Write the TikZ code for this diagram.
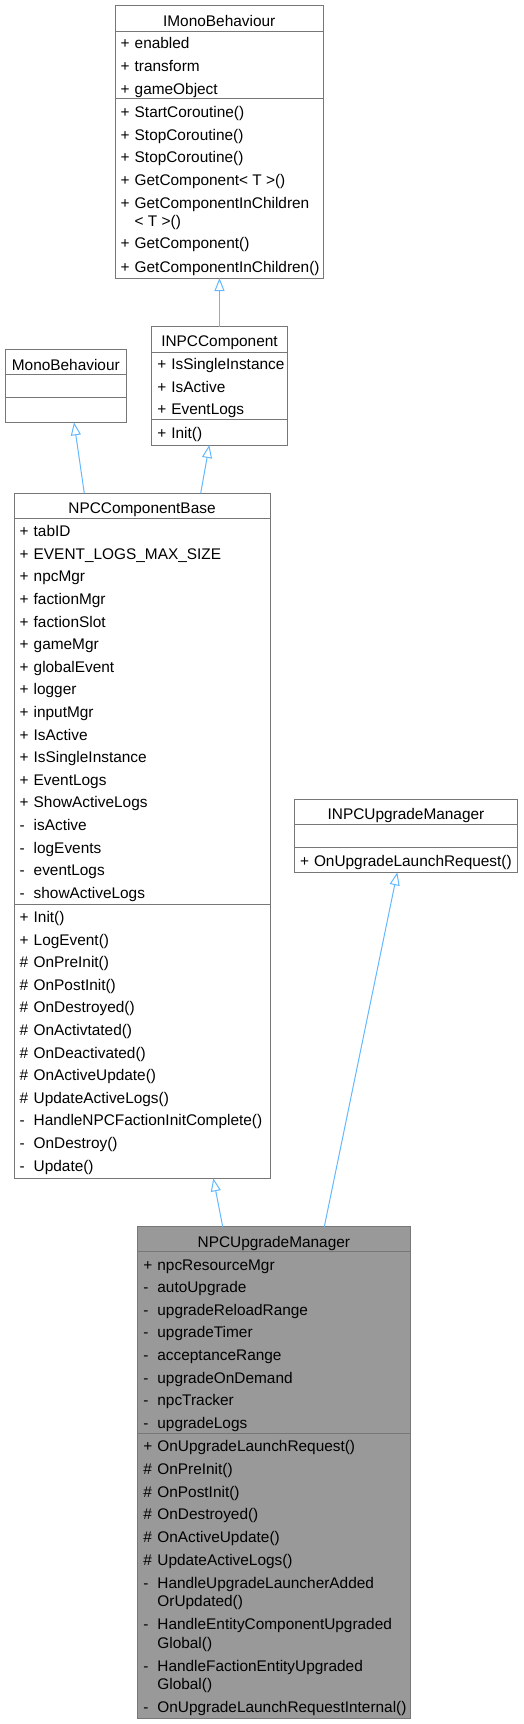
\documentclass[tikz,border=0pt]{standalone}
\usepackage{fontspec}
\setmainfont{Liberation Sans}
\usetikzlibrary{arrows.meta,calc}
\definecolor{bordc}{HTML}{777777}
\definecolor{edgec}{HTML}{63B8FF}
\definecolor{curfill}{HTML}{999999}
\newcommand\members[3]{\foreach \myy/\mpre/\mtxt [count=\mi] in {#3}{\node[mem] (#1\mi) at (#2,\myy) {\makebox[14pt][l]{\mpre}\mtxt};}}
\begin{document}
\begin{tikzpicture}[x=1pt,y=-1pt,
  box/.style={draw=bordc, line width=1pt, inner sep=0pt, outer sep=0pt, anchor=north west, fill=white},
  ttl/.style={anchor=base, inner sep=0pt, font=\fontsize{15.4pt}{18pt}\selectfont},
  mem/.style={anchor=base west, inner sep=0pt, font=\fontsize{15.4pt}{18pt}\selectfont},
  sepl/.style={draw=bordc, line width=1pt},
  edge/.style={draw=edgec, line width=1pt, -{Triangle[open, length=13pt, width=10pt]}}]
\useasboundingbox (0,0) rectangle (523,1724);

% IMonoBehaviour
\node[box, minimum width=208.3pt, minimum height=273pt] (imono) at (115,5) {};
\draw[sepl] (imono.west |- 0,31) -- (imono.east |- 0,31);
\draw[sepl] (imono.west |- 0,98.7) -- (imono.east |- 0,98.7);
\node[ttl] (imonot) at (219.2,26.7) {IMonoBehaviour};
\members{ima}{120.5}{48.7/+/enabled, 71.5/+/transform, 94/+/gameObject}
\members{imm}{120.5}{117.5/+/StartCoroutine(), 140/+/StopCoroutine(), 162.5/+/StopCoroutine(), 185.5/+/GetComponent< T >(), 208/+/GetComponentInChildren, 226/{}/< T >(), 248.8/+/GetComponent(), 272/+/GetComponentInChildren()}

% INPCComponent
\node[box, minimum width=135.6pt, minimum height=118.3pt] (inpc) at (151.7,326.7) {};
\draw[sepl] (inpc.west |- 0,352) -- (inpc.east |- 0,352);
\draw[sepl] (inpc.west |- 0,419.3) -- (inpc.east |- 0,419.3);
\node[ttl] (inpct) at (219.5,346.7) {INPCComponent};
\members{ica}{157.2}{369.9/+/IsSingleInstance, 392.5/+/IsActive, 414.7/+/EventLogs}
\members{icm}{157.2}{438.7/+/Init()}

% MonoBehaviour
\node[box, minimum width=121.7pt, minimum height=73pt] (mono) at (5,349.3) {};
\draw[sepl] (mono.west |- 0,374.3) -- (mono.east |- 0,374.3);
\draw[sepl] (mono.west |- 0,397.3) -- (mono.east |- 0,397.3);
\node[ttl] (monot) at (65.8,370) {MonoBehaviour};

% NPCComponentBase
\node[box, minimum width=256pt, minimum height=685pt] (nb) at (14,493.3) {};
\draw[sepl] (nb.west |- 0,518.3) -- (nb.east |- 0,518.3);
\draw[sepl] (nb.west |- 0,904) -- (nb.east |- 0,904);
\node[ttl] (nbt) at (142,513.8) {NPCComponentBase};
\members{nba}{19.5}{536.7/+/tabID, 559.3/+/EVENT\_LOGS\_MAX\_SIZE, 581.9/+/npcMgr, 604.5/+/factionMgr, 627.1/+/factionSlot, 649.7/+/gameMgr, 672.3/+/globalEvent, 694.9/+/logger, 717.5/+/inputMgr, 740.1/+/IsActive, 762.7/+/IsSingleInstance, 785.3/+/EventLogs, 807.9/+/ShowActiveLogs, 830.5/-/isActive, 853.1/-/logEvents, 875.7/-/eventLogs, 898.3/-/showActiveLogs}
\members{nbm}{19.5}{922.4/+/Init(), 945/+/LogEvent(), 967.6/\#/OnPreInit(), 990.2/\#/OnPostInit(), 1012.8/\#/OnDestroyed(), 1035.4/\#/OnActivtated(), 1058/\#/OnDeactivated(), 1080.6/\#/OnActiveUpdate(), 1103.2/\#/UpdateActiveLogs(), 1125.8/-/HandleNPCFactionInitComplete(), 1148.4/-/OnDestroy(), 1171/-/Update()}

% INPCUpgradeManager
\node[box, minimum width=223.4pt, minimum height=73pt] (iupm) at (294.3,799.3) {};
\draw[sepl] (iupm.west |- 0,824.3) -- (iupm.east |- 0,824.3);
\draw[sepl] (iupm.west |- 0,847.7) -- (iupm.east |- 0,847.7);
\node[ttl] (iupmt) at (406,819.8) {INPCUpgradeManager};
\members{ium}{299.8}{866.7/+/OnUpgradeLaunchRequest()}

% NPCUpgradeManager
\node[box, fill=curfill, minimum width=272.3pt, minimum height=491.6pt] (upm) at (137.7,1226.7) {};
\draw[sepl] (upm.west |- 0,1251.7) -- (upm.east |- 0,1251.7);
\draw[sepl] (upm.west |- 0,1433.3) -- (upm.east |- 0,1433.3);
\node[ttl] (upmt) at (273.9,1247) {NPCUpgradeManager};
\members{uma}{143.2}{1270.1/+/npcResourceMgr, 1292.7/-/autoUpgrade, 1315.3/-/upgradeReloadRange, 1337.9/-/upgradeTimer, 1360.5/-/acceptanceRange, 1383.1/-/upgradeOnDemand, 1405.7/-/npcTracker, 1428.3/-/upgradeLogs}
\members{umm}{143.2}{1451.5/+/OnUpgradeLaunchRequest(), 1474.2/\#/OnPreInit(), 1497/\#/OnPostInit(), 1519.7/\#/OnDestroyed(), 1542.5/\#/OnActiveUpdate(), 1565.2/\#/UpdateActiveLogs(), 1588/-/HandleUpgradeLauncherAdded, 1606.7/{}/OrUpdated(), 1629.5/-/HandleEntityComponentUpgraded, 1648.2/{}/Global(), 1671/-/HandleFactionEntityUpgraded, 1689.7/{}/Global(), 1712.4/-/OnUpgradeLaunchRequestInternal()}

% inheritance edges
\draw[edge] (inpc.north) -- (inpc.north |- imono.south);
\draw[edge] ($(nb.north west)+(70.3,0)$) -- ($(mono.south west)+(69,0)$);
\draw[edge] ($(nb.north west)+(186.7,0)$) -- ($(inpc.south west)+(57.6,0)$);
\draw[edge] ($(upm.north west)+(85,0)$) -- ($(nb.south west)+(199.3,0)$);
\draw[edge] ($(upm.north west)+(186.6,0)$) -- ($(iupm.south west)+(103,0)$);
\end{tikzpicture}
\end{document}
